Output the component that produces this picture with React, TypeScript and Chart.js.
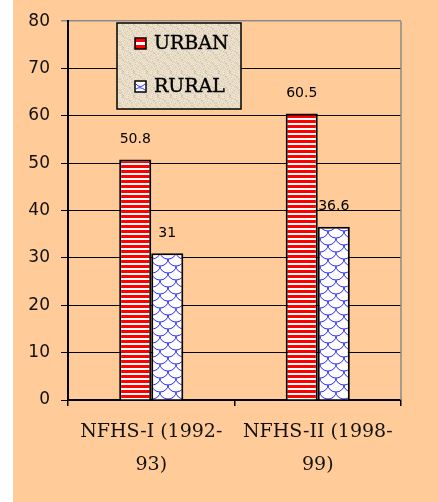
import React, { useEffect, useRef } from "react";
import { Chart, registerables } from "chart.js";

Chart.register(...registerables);

const categories: string[][] = [
  ["NFHS-I (1992-", "93)"],
  ["NFHS-II (1998-", "99)"],
];
const seriesNames = ["URBAN", "RURAL"];
const urbanValues = [50.8, 60.5];
const ruralValues = [31, 36.6];
const yMin = 0;
const yMax = 80;
const yStep = 10;

function makeStripePattern(): CanvasPattern | string {
  const c = document.createElement("canvas");
  c.width = 8;
  c.height = 5;
  const g = c.getContext("2d")!;
  g.fillStyle = "#ffffff";
  g.fillRect(0, 0, 8, 5);
  g.fillStyle = "#ff0000";
  g.fillRect(0, 0, 8, 3);
  return g.createPattern(c, "repeat") || "#ff0000";
}

function makeScalePattern(): CanvasPattern | string {
  const c = document.createElement("canvas");
  c.width = 16;
  c.height = 14;
  const g = c.getContext("2d")!;
  g.fillStyle = "#ffffff";
  g.fillRect(0, 0, 16, 14);
  g.strokeStyle = "#2b2bff";
  g.lineWidth = 1;
  const centers: [number, number][] = [
    [8, 0],
    [0, 7],
    [16, 7],
    [8, 14],
    [0, -7],
    [16, -7],
  ];
  centers.forEach(([cx, cy]) => {
    g.beginPath();
    g.ellipse(cx, cy, 8, 7, 0, 0, Math.PI);
    g.stroke();
  });
  return g.createPattern(c, "repeat") || "#ffffff";
}

function makeSpecklePattern(): CanvasPattern | string {
  const c = document.createElement("canvas");
  c.width = 24;
  c.height = 24;
  const g = c.getContext("2d")!;
  g.fillStyle = "#e8dcc6";
  g.fillRect(0, 0, 24, 24);
  const tones = ["#f4ecdc", "#d8ccb4", "#efe4d0", "#cfc2aa"];
  for (let y = 0; y < 24; y++) {
    for (let x = 0; x < 24; x++) {
      const h = (x * 73 + y * 151 + x * y * 17) % 11;
      if (h < 4) {
        g.fillStyle = tones[h];
        g.fillRect(x, y, 1, 1);
      }
    }
  }
  return g.createPattern(c, "repeat") || "#e8dcc6";
}

export default function App() {
  const canvasRef = useRef<HTMLCanvasElement | null>(null);

  useEffect(() => {
    document.body.style.margin = "0";
    const canvas = canvasRef.current!;
    const stripe = makeStripePattern();
    const scalesPat = makeScalePattern();
    const speckle = makeSpecklePattern();

    const valueLabels = {
      id: "valueLabels",
      afterDatasetsDraw(chart: any) {
        const ctx = chart.ctx;
        ctx.save();
        ctx.font = "14px 'DejaVu Sans'";
        ctx.fillStyle = "#000";
        ctx.textAlign = "center";
        ctx.textBaseline = "middle";
        chart.data.datasets.forEach((ds: any, di: number) => {
          const meta = chart.getDatasetMeta(di);
          meta.data.forEach((bar: any, i: number) => {
            ctx.fillText(String(ds.data[i]), bar.x, bar.y - 20);
          });
        });
        ctx.restore();
      },
    };

    const frame = {
      id: "frame",
      beforeDatasetsDraw(chart: any) {
        const { ctx, chartArea } = chart;
        ctx.save();
        ctx.strokeStyle = "#8a8a8a";
        ctx.lineWidth = 1.5;
        ctx.beginPath();
        ctx.moveTo(chartArea.right, chartArea.top);
        ctx.lineTo(chartArea.right, chartArea.bottom);
        ctx.stroke();
        ctx.restore();
      },
    };

    const boxLegend = {
      id: "boxLegend",
      afterDraw(chart: any) {
        const ctx = chart.ctx;
        const bx = 117, by = 23, bw = 124, bh = 86;
        ctx.save();
        ctx.fillStyle = speckle;
        ctx.fillRect(bx, by, bw, bh);
        ctx.strokeStyle = "#000";
        ctx.lineWidth = 1.5;
        ctx.strokeRect(bx, by, bw, bh);
        const rows = [44, 87];
        chart.data.datasets.forEach((ds: any, i: number) => {
          const cy = rows[i];
          ctx.fillStyle = i === 0 ? "#ff0000" : "#ffffff";
          ctx.fillRect(135, cy - 6, 11, 11);
          if (i === 0) {
            ctx.fillStyle = "#ffffff";
            ctx.fillRect(136, cy - 2, 9, 3);
          } else {
            ctx.strokeStyle = "#2b2bff";
            ctx.lineWidth = 1;
            ctx.beginPath();
            ctx.moveTo(136, cy - 3);
            ctx.quadraticCurveTo(140, cy + 2, 145, cy - 3);
            ctx.moveTo(136, cy + 2);
            ctx.quadraticCurveTo(140, cy - 1, 145, cy + 3);
            ctx.stroke();
          }
          ctx.strokeStyle = "#000";
          ctx.lineWidth = 1.5;
          ctx.strokeRect(135, cy - 6, 11, 11);
          ctx.fillStyle = "#000";
          ctx.font = "19px 'DejaVu Serif'";
          ctx.textAlign = "left";
          ctx.textBaseline = "middle";
          ctx.fillText(ds.label, 154, cy);
          ctx.strokeStyle = "#000";
          ctx.lineWidth = 0.4;
          ctx.strokeText(ds.label, 154, cy);
        });
        ctx.restore();
      },
    };

    const chart = new Chart(canvas, {
      type: "bar",
      data: {
        labels: categories,
        datasets: [
          {
            label: seriesNames[0],
            data: urbanValues,
            backgroundColor: stripe as any,
            borderColor: "#000",
            borderWidth: 2,
            barPercentage: 1,
            categoryPercentage: 0.385,
          },
          {
            label: seriesNames[1],
            data: ruralValues,
            backgroundColor: scalesPat as any,
            borderColor: "#000",
            borderWidth: 2,
            barPercentage: 1,
            categoryPercentage: 0.385,
          },
        ],
      },
      options: {
        responsive: false,
        animation: false,
        layout: { padding: { top: 18, right: 37, left: 0, bottom: 0 } },
        plugins: {
          legend: { display: false },
          tooltip: { enabled: false },
          title: { display: false },
        },
        scales: {
          x: {
            afterFit: (s: any) => {
              s.height = 102;
            },
            grid: {
              display: true,
              drawOnChartArea: false,
              drawTicks: true,
              tickLength: 6,
              color: "#000",
              lineWidth: 1.5,
            },
            border: { display: true, color: "#000", width: 2 },
            ticks: {
              color: "#111",
              padding: 10,
              font: { family: "'DejaVu Serif'", size: 19, lineHeight: 1.72 },
              maxRotation: 0,
              autoSkip: false,
            },
          },
          y: {
            min: yMin,
            max: yMax,
            afterFit: (s: any) => {
              s.width = 68;
            },
            grid: {
              color: (c: any) => (c.tick && c.tick.value === yMax ? "#8a8a8a" : "#000"),
              lineWidth: (c: any) => (c.tick && c.tick.value === yMax ? 1.5 : 1),
              drawTicks: true,
              tickLength: 7,
            },
            border: { display: true, color: "#000", width: 2 },
            ticks: {
              stepSize: yStep,
              color: "#111",
              padding: 11,
              font: { family: "'DejaVu Sans'", size: 17 },
            },
          },
        },
      },
      plugins: [frame, valueLabels, boxLegend],
    });

    return () => {
      chart.destroy();
    };
  }, []);

  return (
    <div
      style={{
        position: "fixed",
        left: 0,
        top: 0,
        width: 438,
        height: 502,
        background: "#ffffff",
      }}
    >
      <div
        style={{
          position: "absolute",
          left: 13,
          top: 0,
          width: 425,
          height: 502,
          background: "#ffcc99",
        }}
      />
      <canvas
        ref={canvasRef}
        width={438}
        height={502}
        style={{ position: "absolute", left: 0, top: 0, width: 438, height: 502 }}
      />
    </div>
  );
}
